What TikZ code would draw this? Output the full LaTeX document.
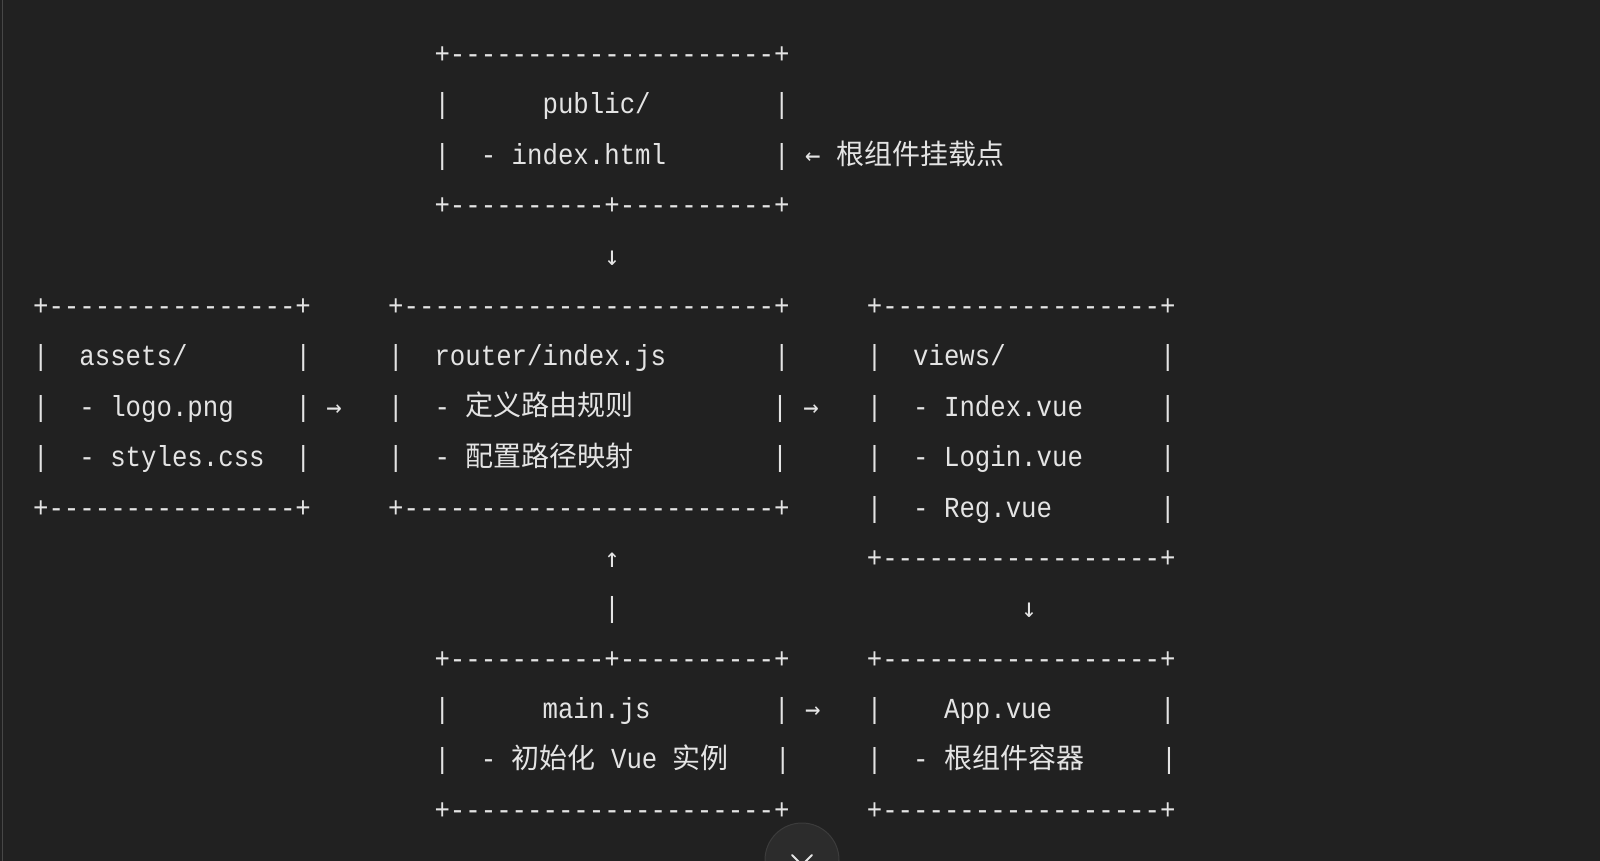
\documentclass[tikz,border=0pt]{standalone}
\usepackage{fontspec}
\setmonofont[FakeStretch=0.887]{Liberation Mono}
\newfontfamily\cjkfont{Noto Sans CJK SC}
\newfontfamily\arrowfont[FakeStretch=0.95]{DejaVu Sans Mono}
\definecolor{bg}{HTML}{212121}
\definecolor{fg}{HTML}{E4E4E4}
\definecolor{edge}{HTML}{474747}
\definecolor{btnfill}{HTML}{2C2C2C}
\definecolor{btnline}{HTML}{3C3C3C}
\tikzset{
  txt/.style={anchor=base west, inner sep=0pt, outer sep=0pt, text=fg},
  mono/.style={txt, font=\ttfamily\fontsize{29}{32}\selectfont},
  han/.style={txt, font=\cjkfont\fontsize{28}{32}\selectfont},
  arr/.style={txt, font=\arrowfont\fontsize{27}{32}\selectfont},
}
\newcommand\Seg[4]{\node[mono] (#1) at ({33.1+#2*15.44},{63.6+#3*50.38}) {#4};}
\newcommand\SegX[4]{\node[mono] (#1) at ({#2},{63.6+#3*50.38}) {#4};}
\newcommand\Arr[4]{\node[arr] (#1) at ({33.1+#2*15.44},{63.6+#3*50.38}) {#4};}
\newcommand\ArrX[4]{\node[arr] (#1) at ({#2},{63.6+#3*50.38}) {#4};}
\newcommand\Han[4]{\node[han] (#1) at ({#2},{63.3+#3*50.38}) {#4};}
\begin{document}
\begin{tikzpicture}[x=1pt,y=-1pt]
\fill[bg] (0,0) rectangle (1600,861);
\useasboundingbox (0,0) rectangle (1600,861);
\draw[edge, line width=1.5pt] (2.5,0) -- (2.5,861);

% public box
\Seg{pubtop}{26}{0}{+---------------------+}
\Seg{publA}{26}{1}{|}
\Seg{pubname}{33}{1}{public/}
\Seg{pubrA}{48}{1}{|}
\Seg{publB}{26}{2}{|}
\Seg{pubdash}{29}{2}{-}
\Seg{pubfile}{31}{2}{index.html}
\Seg{pubrB}{48}{2}{|}
\Arr{mountarr}{50}{2}{←}
\Han{mountlbl}{836.0}{2}{根组件挂载点}
\Seg{pubbot}{26}{3}{+----------+----------+}
\Arr{downA}{37}{4}{↓}

% row of three boxes
\Seg{asstop}{0}{5}{+----------------+}
\Seg{routop}{23}{5}{+------------------------+}
\Seg{viewtop}{54}{5}{+------------------+}

\Seg{asslA}{0}{6}{|}
\Seg{assname}{3}{6}{assets/}
\Seg{assrA}{17}{6}{|}
\Seg{roulA}{23}{6}{|}
\Seg{rouname}{26}{6}{router/index.js}
\Seg{rourA}{48}{6}{|}
\Seg{viewlA}{54}{6}{|}
\Seg{viewname}{57}{6}{views/}
\Seg{viewrA}{73}{6}{|}

\Seg{asslB}{0}{7}{|}
\Seg{assdashB}{3}{7}{-}
\Seg{asslogo}{5}{7}{logo.png}
\Seg{assrB}{17}{7}{|}
\Arr{assarr}{19}{7}{→}
\Seg{roulB}{23}{7}{|}
\Seg{roudashB}{26}{7}{-}
\Han{rourule}{465.4}{7}{定义路由规则}
\SegX{rourB}{772.4}{7}{|}
\ArrX{rouarr}{803.3}{7}{→}
\Seg{viewlB}{54}{7}{|}
\Seg{viewdashB}{57}{7}{-}
\Seg{viewindex}{59}{7}{Index.vue}
\Seg{viewrB}{73}{7}{|}

\Seg{asslC}{0}{8}{|}
\Seg{assdashC}{3}{8}{-}
\Seg{assstyle}{5}{8}{styles.css}
\Seg{assrC}{17}{8}{|}
\Seg{roulC}{23}{8}{|}
\Seg{roudashC}{26}{8}{-}
\Han{roumap}{465.4}{8}{配置路径映射}
\SegX{rourC}{772.4}{8}{|}
\Seg{viewlC}{54}{8}{|}
\Seg{viewdashC}{57}{8}{-}
\Seg{viewlogin}{59}{8}{Login.vue}
\Seg{viewrC}{73}{8}{|}

\Seg{assbot}{0}{9}{+----------------+}
\Seg{roubot}{23}{9}{+------------------------+}
\Seg{viewlD}{54}{9}{|}
\Seg{viewdashD}{57}{9}{-}
\Seg{viewreg}{59}{9}{Reg.vue}
\Seg{viewrD}{73}{9}{|}

\Arr{upA}{37}{10}{↑}
\Seg{viewbot}{54}{10}{+------------------+}
\Seg{stem}{37}{11}{|}
\Arr{downB}{64}{11}{↓}

% bottom boxes
\Seg{maintop}{26}{12}{+----------+----------+}
\Seg{apptop}{54}{12}{+------------------+}
\Seg{mainlA}{26}{13}{|}
\Seg{mainname}{33}{13}{main.js}
\Seg{mainrA}{48}{13}{|}
\Arr{mainarr}{50}{13}{→}
\Seg{applA}{54}{13}{|}
\Seg{appname}{59}{13}{App.vue}
\Seg{apprA}{73}{13}{|}

\Seg{mainlB}{26}{14}{|}
\Seg{maindash}{29}{14}{-}
\Han{maininit}{511.7}{14}{初始化}
\SegX{mainvue}{611.1}{14}{Vue}
\Han{maininst}{672.9}{14}{实例}
\SegX{mainrB}{775.2}{14}{|}
\Seg{applB}{54}{14}{|}
\Seg{appdash}{57}{14}{-}
\Han{appdesc}{944.1}{14}{根组件容器}
\SegX{apprB}{1161.3}{14}{|}

\Seg{mainbot}{26}{15}{+---------------------+}
\Seg{appbot}{54}{15}{+------------------+}

% scroll button
\node[circle, minimum size=74pt, inner sep=0pt, fill=btnfill, draw=btnline, line width=1pt] (btn) at (802,860) {};
\draw[fg, line width=2pt, line cap=round] (792,855) -- (802,865) -- (812,855);
\end{tikzpicture}
\end{document}
